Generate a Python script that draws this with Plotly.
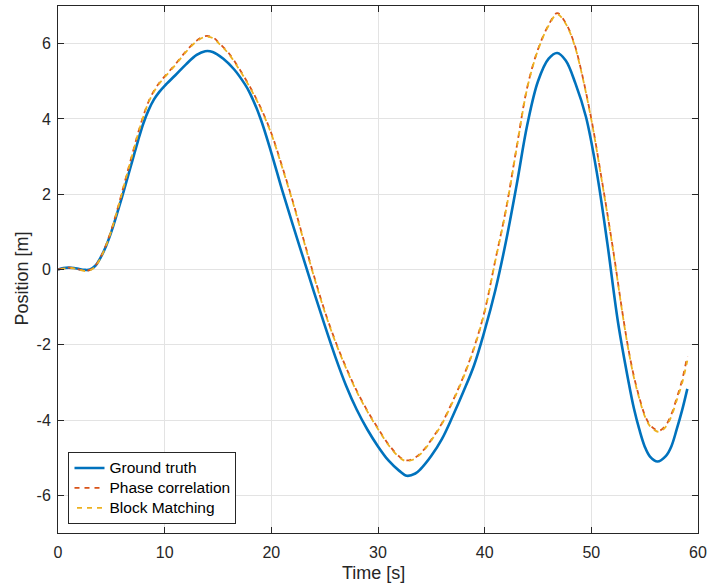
import plotly.graph_objects as go

# Ground truth
t_gt = [0, 0.5, 1, 1.5, 2, 2.5, 3, 3.5, 4, 4.5, 5, 5.5, 6, 6.5, 7, 7.5, 8, 8.5, 9, 9.5, 10,
        11, 12, 13, 13.8, 14.5, 15.5, 16.5, 17.5, 18, 19, 20, 21, 22, 23, 24, 25, 26, 27,
        28, 29, 30, 31, 32, 32.7, 33.5, 34, 35, 36, 37, 38, 39, 40, 41, 42, 43, 44, 45,
        46, 46.8, 47.6, 48.5, 49.5, 50.5, 51.5, 52.5, 53.5, 54, 54.5, 55, 55.5, 56.2, 57,
        57.5, 58, 58.5, 59]
v_gt = [0, 0.04, 0.05, 0.04, 0.01, -0.01, 0.0, 0.1, 0.32, 0.62, 1.0, 1.45, 1.92, 2.42, 2.92,
        3.42, 3.88, 4.24, 4.52, 4.72, 4.88, 5.16, 5.45, 5.7, 5.8, 5.78, 5.6, 5.32, 4.93, 4.68,
        4.0, 3.1, 2.12, 1.2, 0.3, -0.6, -1.48, -2.32, -3.08, -3.72, -4.25, -4.7, -5.08, -5.35,
        -5.48, -5.42, -5.3, -4.95, -4.5, -3.9, -3.25, -2.55, -1.62, -0.55, 0.75, 2.25, 3.85,
        5.0, 5.6, 5.75, 5.55, 4.95, 4.05, 2.6, 0.7, -1.4, -3.0, -3.7, -4.25, -4.7, -4.97,
        -5.1, -4.95, -4.7, -4.25, -3.75, -3.17]

# Phase correlation
t_pc = [0, 0.5, 1, 1.5, 2, 2.5, 3, 3.5, 4, 4.5, 5, 5.5, 6, 6.5, 7, 7.5, 8, 8.5, 9, 9.5, 10,
        11, 12, 13, 13.8, 14.5, 15.1, 16, 17, 18, 19, 20, 21, 22, 23, 24, 25, 26, 27, 28, 29,
        30, 31, 32, 32.6, 33.2, 34, 35, 36, 37, 38, 39, 40, 41, 42, 43, 44, 45, 46, 46.8,
        47.6, 48.4, 49, 50, 51, 52, 53, 53.5, 54, 54.5, 55, 55.5, 56, 56.4, 57, 57.5, 58,
        58.5, 59]
v_pc = [0, 0.03, 0.05, 0.04, 0.0, -0.03, -0.01, 0.1, 0.33, 0.65, 1.05, 1.53, 2.05, 2.58,
        3.1, 3.62, 4.08, 4.47, 4.75, 4.96, 5.13, 5.45, 5.8, 6.08, 6.2, 6.17, 6.02, 5.75, 5.33,
        4.85, 4.3, 3.62, 2.75, 1.82, 0.82, -0.17, -1.1, -1.9, -2.6, -3.22, -3.75, -4.22,
        -4.65, -4.97, -5.07, -5.04, -4.88, -4.52, -4.08, -3.5, -2.85, -2.08, -1.1, 0.25,
        1.6, 3.25, 4.85, 5.85, 6.5, 6.81, 6.55, 6.0, 5.35, 4.0, 2.35, 0.6, -1.3, -2.15,
        -2.85, -3.4, -3.86, -4.13, -4.25, -4.28, -4.13, -3.85, -3.42, -2.95, -2.3]

# Block matching
t_bm = [0, 0.5, 1, 1.5, 2, 2.5, 3, 3.5, 4, 4.5, 5, 5.5, 6, 6.5, 7, 7.5, 8, 8.5, 9, 9.5, 10,
        11, 12, 13, 13.8, 14.5, 15.1, 16, 17, 18, 19, 20, 21, 22, 23, 24, 25, 26, 27, 28, 29,
        30, 31, 32, 32.6, 33.2, 34, 35, 36, 37, 38, 39, 40, 41, 42, 43, 44, 45, 46, 46.8,
        47.6, 48.4, 49, 50, 51, 52, 53, 53.5, 54, 54.5, 55, 55.5, 56, 56.4, 57, 57.5, 58,
        58.5, 59]
v_bm = [0, 0.02, 0.04, 0.03, -0.01, -0.04, -0.02, 0.08, 0.31, 0.63, 1.03, 1.51, 2.03, 2.56,
        3.08, 3.6, 4.06, 4.45, 4.73, 4.94, 5.11, 5.43, 5.78, 6.06, 6.18, 6.15, 6.0, 5.73, 5.31,
        4.83, 4.28, 3.6, 2.73, 1.8, 0.8, -0.19, -1.12, -1.92, -2.62, -3.24, -3.77, -4.24,
        -4.67, -4.99, -5.09, -5.06, -4.9, -4.54, -4.1, -3.52, -2.87, -2.1, -1.12, 0.23,
        1.58, 3.23, 4.83, 5.83, 6.48, 6.78, 6.53, 5.98, 5.33, 3.98, 2.33, 0.58, -1.32, -2.17,
        -2.88, -3.43, -3.89, -4.16, -4.28, -4.31, -4.17, -3.9, -3.48, -3.03, -2.42]

x_ticks = [0, 10, 20, 30, 40, 50, 60]
y_ticks = [-6, -4, -2, 0, 2, 4, 6]

FONT = "Liberation Sans, Arial, sans-serif"
AX = "#262626"
GRID = "#e3e3e3"


def lbl(s):
    return "<span style='font-size:15.5px'>" + s + "</span>"


fig = go.Figure()
fig.add_trace(go.Scatter(x=t_gt, y=v_gt, mode="lines", name=lbl("Ground truth"),
                         line=dict(color="#0072BD", width=2.6, shape="spline", smoothing=1.0)))
fig.add_trace(go.Scatter(x=t_pc, y=v_pc, mode="lines", name=lbl("Phase correlation"),
                         line=dict(color="#D95319", width=1.8, dash="5px,5px",
                                   shape="spline", smoothing=1.0)))
fig.add_trace(go.Scatter(x=t_bm, y=v_bm, mode="lines", name=lbl("Block Matching"),
                         line=dict(color="#EDB120", width=1.8, dash="0px,2.5px,5px,2.5px",
                                   shape="spline", smoothing=1.0)))

axis_common = dict(showline=True, linecolor=AX, linewidth=1, mirror="ticks",
                   ticks="inside", ticklen=6, tickcolor=AX, tickwidth=1,
                   showgrid=True, gridcolor=GRID, gridwidth=1, zeroline=False,
                   tickfont=dict(family=FONT, size=16, color=AX))

fig.update_xaxes(range=[0, 60], tickvals=x_ticks, ticktext=[str(v) for v in x_ticks],
                 ticklabelstandoff=5, **axis_common)
fig.update_yaxes(range=[-7, 7], tickvals=y_ticks, ticktext=[str(v) for v in y_ticks],
                 ticklabelstandoff=3, **axis_common)

fig.update_layout(
    width=712, height=587,
    margin=dict(l=58, r=9, t=5, b=54),
    paper_bgcolor="white", plot_bgcolor="white",
    showlegend=True,
    legend=dict(x=0.0164, y=0.017, xanchor="left", yanchor="bottom",
                bgcolor="white", bordercolor=AX, borderwidth=1,
                font=dict(family=FONT, size=13, color="black"),
                tracegroupgap=0, itemwidth=30,
                entrywidth=140, entrywidthmode="pixels"),
    annotations=[
        dict(text="Time [s]", xref="paper", yref="paper", x=0.4926, y=0,
             xanchor="center", yanchor="middle", yshift=-40, showarrow=False,
             font=dict(family=FONT, size=18, color=AX)),
        dict(text="Position [m]", xref="paper", yref="paper", x=0, y=0.483,
             xanchor="center", yanchor="middle", xshift=-36, textangle=-90,
             showarrow=False, font=dict(family=FONT, size=18, color=AX)),
    ],
)

fig.write_html("out.html")
